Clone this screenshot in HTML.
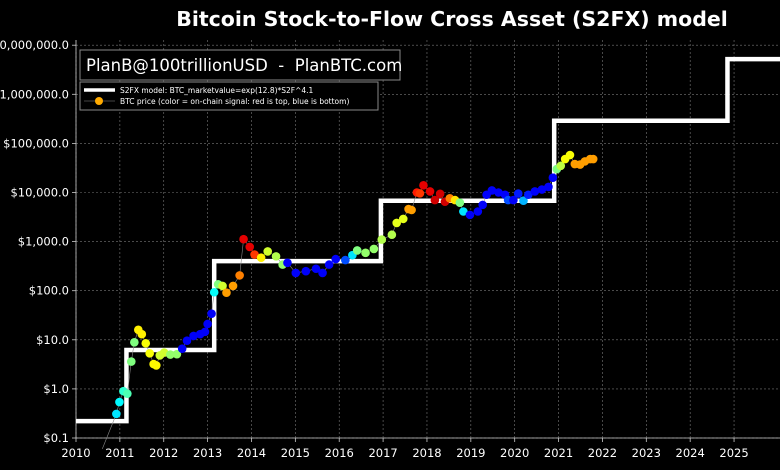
<!DOCTYPE html>
<html><head><meta charset="utf-8"><style>
html,body{margin:0;padding:0;background:#000;width:780px;height:470px;overflow:hidden}
svg{display:block;font-family:"DejaVu Sans","Liberation Sans",sans-serif}
</style></head><body>
<svg id="chart" width="780" height="470" viewBox="0 0 780 470">
<rect x="0" y="0" width="780" height="470" fill="#000"/>
<text x="452" y="26" fill="#fff" font-size="20.5" font-weight="bold" text-anchor="middle">Bitcoin Stock-to-Flow Cross Asset (S2FX) model</text>
<g id="grid"></g>
<g id="axes"></g>
<g id="model"></g>
<g id="price"></g>
<g>
<rect x="80" y="50" width="320" height="30" fill="#000" stroke="#888" stroke-width="1"/>
<text x="86" y="71" fill="#fff" font-size="16.5" style="white-space:pre">PlanB@100trillionUSD  -  PlanBTC.com</text>
</g>
<g>
<rect x="80" y="82" width="298" height="28" fill="#000" stroke="#888" stroke-width="1"/>
<line x1="84" y1="90" x2="115" y2="90" stroke="#fff" stroke-width="3.5"/>
<text x="120" y="93" fill="#fff" font-size="7.5">S2FX model: BTC_marketvalue=exp(12.8)*S2F^4.1</text>
<line x1="84" y1="101" x2="115" y2="101" stroke="#888" stroke-width="0.6"/>
<circle cx="99" cy="101" r="4" fill="#ffaa00"/>
<text x="120" y="104" fill="#fff" font-size="7.5">BTC price (color = on-chain signal: red is top, blue is bottom)</text>
</g>
</svg>
<script>
const yearTicks=[2010,2011,2012,2013,2014,2015,2016,2017,2018,2019,2020,2021,2022,2023,2024,2025];
const priceTicks=[0.1,1,10,100,1000,10000,100000,1000000,10000000];
const priceTickLabels=["$0.1","$1.0","$10.0","$100.0","$1,000.0","$10,000.0","$100,000.0","$1,000,000.0","$10,000,000.0"];
const modelStart=[2010,2011.15,2013.15,2016.95,2020.9,2024.85];
const modelEnd=[2011.15,2013.15,2016.95,2020.9,2024.85,2026.1];
const modelValue=[0.22,6.2,400,6800,290000,5200000];
const priceYears=[2010.92,2010.99,2011.08,2011.17,2011.26,2011.33,2011.42,2011.5,2011.59,2011.68,2011.77,2011.83,2011.91,2012.01,2012.15,2012.3,2012.42,2012.53,2012.68,2012.83,2012.94,2013.0,2013.09,2013.15,2013.24,2013.34,2013.43,2013.58,2013.73,2013.82,2013.96,2014.07,2014.22,2014.37,2014.56,2014.71,2014.82,2015.01,2015.24,2015.47,2015.62,2015.77,2015.92,2016.14,2016.3,2016.41,2016.6,2016.79,2016.97,2017.2,2017.31,2017.46,2017.58,2017.65,2017.77,2017.84,2017.92,2018.07,2018.18,2018.3,2018.41,2018.52,2018.64,2018.75,2018.83,2018.98,2019.16,2019.27,2019.36,2019.48,2019.63,2019.78,2019.85,2019.97,2020.08,2020.2,2020.31,2020.46,2020.62,2020.77,2020.87,2020.96,2021.05,2021.15,2021.26,2021.37,2021.49,2021.6,2021.72,2021.79];
const priceValues=[0.31,0.54,0.9,0.8,3.6,8.9,16,13,8.5,5.3,3.2,3.0,4.8,5.5,5,5.1,6.6,9.6,12,13,14.5,21,34,93,135,125,91,125,205,1120,780,545,470,630,500,340,370,230,250,280,230,340,440,420,530,660,590,710,1100,1380,2400,2900,4600,4400,10000,9600,14000,10500,7000,9400,6500,7600,7000,6200,4100,3500,4100,5600,9000,11000,10000,9000,7000,7000,9500,6800,9000,10500,11500,13000,20000,30000,35000,48000,58000,38000,37000,43000,48000,48000];
const priceSignal=[0.35,0.37,0.42,0.45,0.5,0.5,0.64,0.64,0.62,0.62,0.63,0.63,0.58,0.58,0.52,0.52,0.12,0.12,0.12,0.12,0.12,0.12,0.12,0.38,0.5,0.58,0.72,0.72,0.75,0.9,0.9,0.82,0.64,0.58,0.55,0.52,0.12,0.12,0.12,0.12,0.12,0.12,0.12,0.2,0.35,0.5,0.52,0.52,0.55,0.55,0.6,0.6,0.72,0.72,0.85,0.82,0.9,0.9,0.92,0.92,0.92,0.75,0.65,0.5,0.35,0.12,0.12,0.12,0.12,0.12,0.12,0.12,0.2,0.12,0.15,0.3,0.15,0.12,0.12,0.12,0.12,0.5,0.56,0.62,0.62,0.72,0.72,0.72,0.72,0.72];

const NS="http://www.w3.org/2000/svg";
const X0=76,YR0=2010,PXY=43.87,Y01=438,PXD=49.1;
function xs(yr){return X0+(yr-YR0)*PXY;}
function ys(p){return Y01-(Math.log10(p)+1)*PXD;}
function jet(v){const c=t=>Math.round(255*Math.max(0,Math.min(1,1.5-Math.abs(4*v-t))));return `rgb(${c(3)},${c(2)},${c(1)})`;}
function mk(tag,attrs,parent){const e=document.createElementNS(NS,tag);for(const k in attrs)e.setAttribute(k,attrs[k]);parent.appendChild(e);return e;}
const grid=document.getElementById('grid'),axes=document.getElementById('axes');
yearTicks.forEach(y=>{const x=xs(y);
  const l=mk('line',{x1:x,y1:40,x2:x,y2:438,stroke:'#777','stroke-width':0.6,'stroke-dasharray':'2,2'},grid);
  
  
  const t=mk('text',{x:x,y:457,fill:'#fff','font-size':11.5,'text-anchor':'middle'},axes);t.textContent=y;
  
  
  mk('line',{x1:x,y1:438,x2:x,y2:442,stroke:'#ccc','stroke-width':0.8},axes);
});
priceTicks.forEach((p,i)=>{const y=ys(p);
  const l=mk('line',{x1:76,y1:y,x2:780,y2:y,stroke:'#777','stroke-width':0.6,'stroke-dasharray':'2,2'},grid);
  
  
  const t=mk('text',{x:69,y:y+4,fill:'#fff','font-size':11.5,'text-anchor':'end'},axes);t.textContent=priceTickLabels[i];
  
  
  mk('line',{x1:72,y1:y,x2:76,y2:y,stroke:'#ccc','stroke-width':0.8},axes);
});
mk('line',{x1:76,y1:40,x2:76,y2:438,stroke:'#ccc','stroke-width':0.8},axes);
mk('line',{x1:76,y1:438,x2:780,y2:438,stroke:'#ccc','stroke-width':0.8},axes);
let d='';
modelStart.forEach((s,i)=>{const y=ys(modelValue[i]);d+=(i===0?'M':'L')+xs(s)+','+y+'L'+xs(modelEnd[i])+','+y;});
const mp=mk('path',{d:d,fill:'none',stroke:'#fff','stroke-width':4.5,'stroke-linejoin':'miter'},document.getElementById('model'));


const pg=document.getElementById('price');
let pd='M'+xs(2010.6)+','+ys(0.06);
priceYears.forEach((yr,i)=>{pd+='L'+xs(yr)+','+ys(priceValues[i]);});
mk('path',{d:pd,fill:'none',stroke:'#888','stroke-width':0.6},pg);
priceYears.forEach((yr,i)=>{
  const c=mk('circle',{cx:xs(yr),cy:ys(priceValues[i]),r:4.3,fill:jet(priceSignal[i])},pg);
  
  
});
</script>
</body></html>
